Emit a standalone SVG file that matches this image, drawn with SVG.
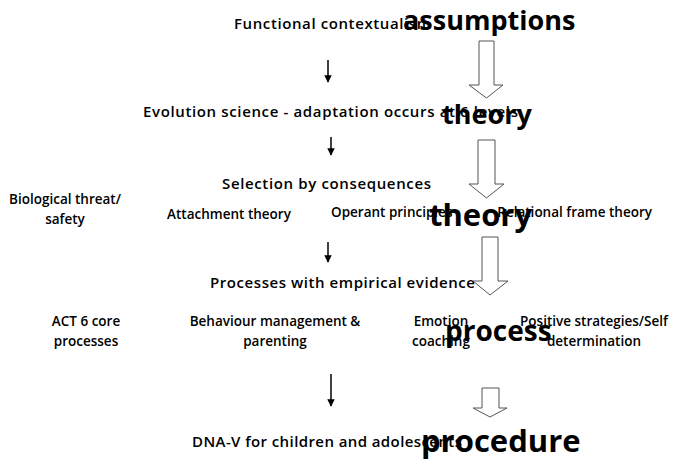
<svg xmlns="http://www.w3.org/2000/svg" width="673" height="461" viewBox="0 0 673 461">
  <style>
    .lbl { font-family: "Open Sans", "Noto Sans", "DejaVu Sans", sans-serif; font-weight: 600; font-size: 15px; fill: #000; }
    .sm { font-size: 13.5px; }
    .big { font-family: "Open Sans", "Noto Sans", "DejaVu Sans", sans-serif; font-weight: 700; fill: #000; }
    .block { fill: #fff; stroke: #555; stroke-width: 1; }
    .thin { stroke: #000; stroke-width: 1.5; fill: none; }
  </style>
  <defs>
    <marker id="tip" viewBox="0 0 10 10" refX="9" refY="5" markerWidth="5" markerHeight="5" orient="auto">
      <path d="M0,0 L10,5 L0,10 z" fill="#000"/>
    </marker>
  </defs>

  <!-- level headings -->
  <g id="functional-contextualism"><text class="lbl" x="234" y="29" textLength="197" lengthAdjust="spacing">Functional contextualism</text></g>
  <g id="evolution-science"><text class="lbl" x="143" y="117" textLength="375" lengthAdjust="spacing">Evolution science - adaptation occurs at 6 levels</text></g>
  <g id="selection"><text class="lbl" x="222" y="189" font-size="16" textLength="209" lengthAdjust="spacing">Selection by consequences</text></g>

  <g id="biological-threat">
    <text class="lbl sm" x="65" y="204" text-anchor="middle">Biological threat/</text>
    <text class="lbl sm" x="65" y="224" text-anchor="middle">safety</text>
  </g>
  <g id="attachment"><text class="lbl sm" x="229" y="219" text-anchor="middle">Attachment theory</text></g>
  <g id="operant"><text class="lbl sm" x="331" y="217">Operant principles</text></g>
  <g id="rft"><text class="lbl sm" x="652" y="217" text-anchor="end">Relational frame theory</text></g>

  <g id="processes"><text class="lbl" x="210" y="288" textLength="265" lengthAdjust="spacing">Processes with empirical evidence</text></g>

  <g id="act">
    <text class="lbl sm" x="86" y="326" text-anchor="middle">ACT 6 core</text>
    <text class="lbl sm" x="86" y="346" text-anchor="middle">processes</text>
  </g>
  <g id="behaviour">
    <text class="lbl sm" x="275" y="326" text-anchor="middle">Behaviour management &amp;</text>
    <text class="lbl sm" x="275" y="346" text-anchor="middle">parenting</text>
  </g>
  <g id="emotion">
    <text class="lbl sm" x="441" y="326" text-anchor="middle">Emotion</text>
    <text class="lbl sm" x="441" y="346" text-anchor="middle">coaching</text>
  </g>
  <g id="positive">
    <text class="lbl sm" x="594" y="326" text-anchor="middle">Positive strategies/Self</text>
    <text class="lbl sm" x="594" y="346" text-anchor="middle">determination</text>
  </g>

  <g id="dna-v"><text class="lbl" x="192" y="447" textLength="270" lengthAdjust="spacing">DNA-V for children and adolescents</text></g>

  <!-- connectors: thin arrows down the left column, block arrows on the right -->
  <g id="connectors">
    <line class="thin" x1="328" y1="60" x2="328" y2="82" marker-end="url(#tip)"/>
    <line class="thin" x1="331" y1="137" x2="331" y2="155" marker-end="url(#tip)"/>
    <line class="thin" x1="328" y1="242" x2="328" y2="262" marker-end="url(#tip)"/>
    <line class="thin" x1="331" y1="374" x2="331" y2="406" marker-end="url(#tip)"/>

    <path class="block" d="M479,41 H494 V85 H503 L486.5,98 L469,85 H479 Z"/>
    <path class="block" d="M478,140 H495 V184 H504 L486.5,198 L469,184 H478 Z"/>
    <path class="block" d="M482,237 H498 V281 H508 L490,295 L473,281 H482 Z"/>
    <path class="block" d="M482,388 H499 V408 H507 L490,417 L473,408 H482 Z"/>
  </g>

  <!-- tier labels drawn over the headings -->
  <g id="tier-labels">
    <text class="big" x="403" y="30" font-size="27">assumptions</text>
    <text class="big" x="442" y="124" font-size="27">theory</text>
    <text class="big" x="429" y="226" font-size="31">theory</text>
    <text class="big" x="445" y="341" font-size="28">process</text>
    <text class="big" x="421" y="452" font-size="31">procedure</text>
  </g>
</svg>
